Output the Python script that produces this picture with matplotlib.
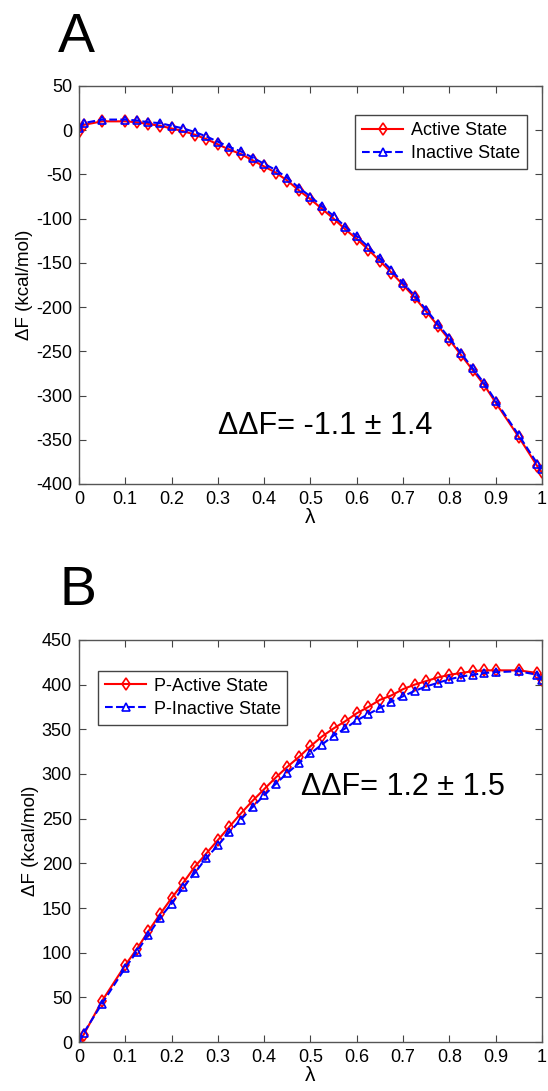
import numpy as np
import matplotlib

matplotlib.use('Agg')
import matplotlib.pyplot as plt

plt.rcParams['font.family'] = ['Liberation Sans', 'DejaVu Sans']
plt.rcParams['axes.unicode_minus'] = False

lam = [0, 0.01, 0.05, 0.1, 0.125, 0.15, 0.175, 0.2, 0.225, 0.25, 0.275, 0.3,
       0.325, 0.35, 0.375, 0.4, 0.425, 0.45, 0.475, 0.5, 0.525, 0.55, 0.575,
       0.6, 0.625, 0.65, 0.675, 0.7, 0.725, 0.75, 0.775, 0.8, 0.825, 0.85,
       0.875, 0.9, 0.95, 0.99, 1.0]

# панель A
active = [-2, 6, 10, 10, 9, 7, 5, 2, -1, -5, -10, -16, -22, -27, -34, -41,
          -48, -57, -68, -78, -89, -100, -112, -123, -135, -148, -161, -175,
          -189, -205, -221, -237, -254, -271, -288, -308, -347, -380, -387]
inactive = [2, 8, 12, 12, 11, 9, 8, 5, 2, -2, -7, -13, -19, -24, -31, -38,
            -45, -54, -65, -75, -86, -97, -109, -120, -132, -145, -158, -173,
            -187, -203, -219, -235, -252, -269, -286, -306, -345, -377, -383]

# панель B
p_active = [0, 8, 46, 86, 104, 124, 143, 161, 178, 196, 211, 226, 241, 256,
            270, 283, 296, 308, 319, 331, 342, 351, 359, 368, 375, 383, 388,
            395, 400, 404, 408, 411, 413, 415, 416, 416, 416, 413, 405]
p_inactive = [0, 10, 43, 83, 101, 120, 139, 155, 173, 189, 206, 220, 235, 249,
              263, 276, 289, 301, 312, 323, 333, 343, 351, 360, 367, 374, 381,
              387, 393, 398, 402, 406, 409, 411, 413, 414, 415, 411, 405]

fig = plt.figure(figsize=(5.48, 10.91), dpi=100)
ax1 = fig.add_axes([0.144, 0.5564, 0.845, 0.3648])
ax2 = fig.add_axes([0.144, 0.0449, 0.845, 0.3685])


def style(ax):
    ax.set_xlim(0, 1)
    ax.set_xticks([0, 0.1, 0.2, 0.3, 0.4, 0.5, 0.6, 0.7, 0.8, 0.9, 1])
    ax.set_xticklabels(['0', '0.1', '0.2', '0.3', '0.4', '0.5', '0.6', '0.7',
                        '0.8', '0.9', '1'])
    ax.tick_params(direction='in', top=True, right=True, labelsize=13,
                   length=5, width=0.8, color='#444444', pad=5)
    for s in ax.spines.values():
        s.set_color('#555555')
        s.set_linewidth(1.0)
    ax.set_xlabel('λ', fontsize=15, labelpad=0)
    ax.set_ylabel('ΔF (kcal/mol)', fontsize=13.5, labelpad=2)


def legend(ax, loc, anchor):
    ax.legend(loc=loc, bbox_to_anchor=anchor, fontsize=13,
              fancybox=False, edgecolor='#444444', framealpha=1,
              handlelength=2.3, borderpad=0.38, labelspacing=0.33,
              handletextpad=0.4, borderaxespad=0)


ax1.plot(lam, active, color='red', marker='d', mfc='none', ms=6, mew=1.2,
         lw=1.5, label='Active State')
ax1.plot(lam, inactive, color='blue', ls='--', marker='^', mfc='none', ms=6,
         mew=1.2, lw=1.5, label='Inactive State')
ax1.set_ylim(-400, 50)
ax1.set_yticks(np.arange(-400, 51, 50))
style(ax1)
legend(ax1, 'upper right', (0.967, 0.927))
ax1.text(0.3, -334, 'ΔΔF= -1.1 ± 1.4', fontsize=22, va='center', ha='left')

ax2.plot(lam, p_active, color='red', marker='d', mfc='none', ms=6, mew=1.2,
         lw=1.5, label='P-Active State')
ax2.plot(lam, p_inactive, color='blue', ls='--', marker='^', mfc='none',
         ms=6, mew=1.2, lw=1.5, label='P-Inactive State')
ax2.set_ylim(0, 450)
ax2.set_yticks(np.arange(0, 451, 50))
style(ax2)
legend(ax2, 'upper left', (0.041, 0.923))
ax2.text(0.48, 285, 'ΔΔF= 1.2 ± 1.5', fontsize=22, va='center', ha='left')

fig.text(58 / 548, 1 - 52 / 1091, 'A', fontsize=40, ha='left', va='baseline')
fig.text(60 / 548, 1 - 605 / 1091, 'B', fontsize=40, ha='left', va='baseline')

fig.savefig('out.png', dpi=100)
